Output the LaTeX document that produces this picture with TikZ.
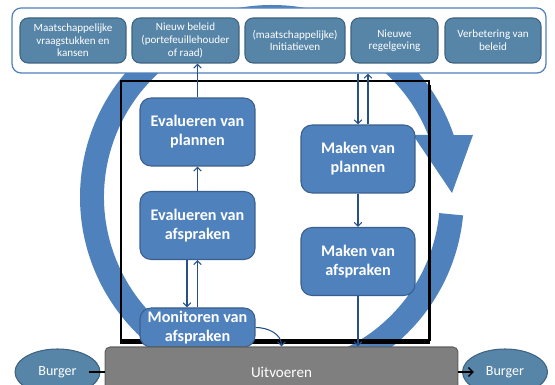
\documentclass[tikz,border=0pt]{standalone}
\usepackage{fontspec}
\setmainfont{Carlito}
\usepackage{tikz}
\usetikzlibrary{calc}
\usetikzlibrary{arrows.meta}
\usetikzlibrary{shapes.geometric}

\definecolor{ringblue}{RGB}{79,129,189}
\definecolor{boxblue}{RGB}{79,129,189}
\definecolor{boxedge}{RGB}{58,95,140}
\definecolor{topblue}{RGB}{87,133,168}
\definecolor{topedge}{RGB}{62,98,128}
\definecolor{linkblue}{RGB}{38,80,138}
\definecolor{uitvgrey}{RGB}{127,127,127}
\definecolor{uitvedge}{RGB}{95,95,95}

\tikzset{
  topbox/.style={draw=topedge, fill=topblue, rounded corners=0.16cm, text=white,
    align=center, inner sep=0pt, minimum height=0.9cm, line width=0.6pt,
    font=\fontsize{6.3}{7.2}\selectfont},
  stapbox/.style={draw=boxedge, fill=boxblue, rounded corners=0.22cm, text=white,
    align=center, inner sep=0pt, minimum height=1.36cm, line width=0.6pt,
    font=\fontsize{9.2}{10.8}\selectfont\bfseries},
  burger/.style={ellipse, draw=topedge, fill=topblue, text=white, inner sep=0pt,
    minimum width=1.7cm, minimum height=0.92cm, line width=0.6pt,
    font=\fontsize{8}{9.6}\selectfont},
  link/.style={draw=linkblue, line width=0.6pt, -{Straight Barb[length=2.2pt,width=4.4pt]}},
}

\begin{document}
\begin{tikzpicture}[x=0.02cm, y=0.02cm]
    \useasboundingbox (0,0) rectangle (555,385);

    % Centre of the cycle arrow
    \coordinate (C) at (272,188);
    \def\rin{168}   % inner radius of the ring
    \def\rout{192}  % outer radius of the ring

    % Draw the cycle arrow
    \begin{scope}[shift={(C)}]
        \fill[ringblue] (-5.5:\rout) arc[start angle=-5.5, end angle=-341.2, radius=\rout]
            -- (201,62) -- (180,4) -- (141,62)
            -- (21.7:\rin) arc[start angle=-338.3, end angle=-5.5, radius=\rin] -- cycle;
    \end{scope}

    % Draw the frame
    \draw[line width=1.4pt] (121,44) rectangle (429,304);
    \draw[line width=2.8pt] (120,43.5) -- (430,43.5);
    \draw[line width=2pt] (429.5,44) -- (429.5,300);

    % Draw the inputs on top
    \node[draw=ringblue, fill=white, rounded corners=0.18cm, line width=0.7pt,
        minimum width=10.68cm, minimum height=1.3cm] (bron) at (279,344.5) {};
    \node[topbox, minimum width=2.12cm] (maatsch) at (73,344.5) {Maatschappelijke\\vraagstukken en\\kansen};
    \node[topbox, minimum width=2.14cm] (beleid) at (185.5,344.5) {Nieuw beleid\\(portefeuillehouder\\of raad)};
    \node[topbox, minimum width=2.0cm] (init) at (295,344.5) {(maatschappelijke)\\Initiatieven};
    \node[topbox, minimum width=1.74cm] (regel) at (394.5,344.5) {Nieuwe\\regelgeving};
    \node[topbox, minimum width=1.92cm] (verbet) at (493,344.5) {Verbetering van\\beleid};

    % Draw the steps
    \node[stapbox, minimum width=2.3cm] (evp) at (197.5,253) {Evalueren van\\plannen};
    \node[stapbox, minimum width=2.3cm] (eva) at (197.5,159.5) {Evalueren van\\afspraken};
    \node[stapbox, minimum width=2.3cm, minimum height=0.78cm] (mon) at (197.5,57.5) {Monitoren van\\afspraken};
    \node[stapbox, minimum width=2.28cm] (mkp) at (358,226) {Maken van\\plannen};
    \node[stapbox, minimum width=2.28cm] (mka) at (358,123.5) {Maken van\\afspraken};

    % Draw the execution and the citizens
    \node[draw=uitvedge, fill=uitvgrey, rounded corners=0.1cm, line width=0.6pt, text=white,
        minimum width=7.06cm, minimum height=1cm, font=\fontsize{8.6}{10}\selectfont] (uitv) at (281.5,13) {Uitvoeren};
    \node[burger] (burgerL) at (57.5,13) {Burger};
    \node[burger] (burgerR) at (505,13) {Burger};

    % Draw the links
    \draw[link] (evp.north) -- (evp.north |- beleid.south);
    \draw[link] (eva.north) -- (evp.south);
    \draw[link] ([xshift=-0.21cm]eva.south) -- ([xshift=-0.21cm]mon.north);
    \draw[link] (mon.north) -- (eva.south);
    \draw[link] (mkp.north |- bron.south) -- (mkp.north);
    \draw[link] ([xshift=0.2cm]mkp.north) -- ([xshift=0.2cm]mkp.north |- bron.south);
    \draw[link] (mkp.south) -- (mka.north);
    \draw[link] (mka.south) -- (mka.south |- uitv.north);
    \draw[link] (mon.east) to[out=0, in=90] (uitv.north);
    \draw[line width=0.8pt] ([xshift=-0.24cm]burgerL.east) -- (uitv.west);
    \draw[line width=0.8pt, -{Straight Barb[length=2.6pt,width=5pt]}] (uitv.east) -- ([xshift=0.24cm]burgerR.west);
\end{tikzpicture}
\end{document}
